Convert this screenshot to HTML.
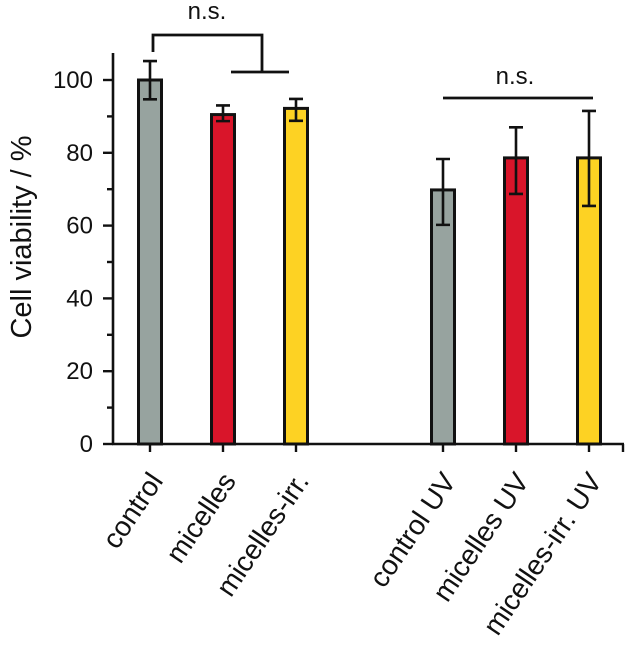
<!DOCTYPE html>
<html><head><meta charset="utf-8"><style>
html,body{margin:0;padding:0;background:#fff}
svg{display:block;font-family:"Liberation Sans",Arial,sans-serif}
</style></head><body>
<svg id="chart" width="630" height="652" viewBox="0 0 630 652">
<text x="0" y="0" transform="translate(31,237) rotate(-90)" text-anchor="middle" font-size="29" fill="#111">Cell viability / %</text>
<g id="axes"></g><g id="bars"></g><g id="annot"></g>
</svg>
<script>
const categories = ["control","micelles","micelles-irr.","control UV","micelles UV","micelles-irr. UV"];
const values = [100, 90.5, 92.2, 69.8, 78.6, 78.6];
const errUp = [5.2, 2.5, 2.6, 8.5, 8.4, 12.9];
const errDown = [5.3, 1.8, 3.4, 9.6, 9.9, 13.2];
const colors = ["#97a39f","#d9152a","#fdd223","#97a39f","#d9152a","#fdd223"];
const yTicks = [0,20,40,60,80,100];
const yMinor = [10,30,50,70,90];
const xCenters = [150, 223, 296, 443, 516, 589];

const NS="http://www.w3.org/2000/svg";
function y(v){return 444 - v*3.64;}
function mk(tag,attrs,parent){const e=document.createElementNS(NS,tag);for(const k in attrs)e.setAttribute(k,attrs[k]);parent.appendChild(e);return e;}
const axes=document.getElementById('axes'), bars=document.getElementById('bars'), annot=document.getElementById('annot');

let l=mk('line',{x1:113,y1:53,x2:113,y2:445,stroke:'#111','stroke-width':2.6},axes);


l=mk('line',{x1:112,y1:444,x2:624,y2:444,stroke:'#111','stroke-width':2.6},axes);


l=mk('line',{x1:623,y1:444,x2:623,y2:452,stroke:'#111','stroke-width':2.4},axes);


yTicks.forEach(v=>{
  const t=mk('line',{x1:103,y1:y(v),x2:113,y2:y(v),stroke:'#111','stroke-width':2.4},axes);
  
  
  const tx=mk('text',{x:93,y:y(v)+8,'text-anchor':'end','font-size':24,fill:'#111'},axes);
  tx.textContent=v;
  
  
});
yMinor.forEach(v=>{
  const t=mk('line',{x1:107,y1:y(v),x2:113,y2:y(v),stroke:'#111','stroke-width':2.4},axes);
  
  
});
categories.forEach((c,i)=>{
  const cx=xCenters[i];
  const r=mk('rect',{x:cx-11.5,y:y(values[i]),width:23,height:444-y(values[i]),fill:colors[i],stroke:'#111','stroke-width':3},bars);
  
  
  const top=y(values[i]+errUp[i]), bot=y(values[i]-errDown[i]);
  const e=mk('path',{d:`M${cx},${top}V${bot}M${cx-7},${top}H${cx+7}M${cx-7},${bot}H${cx+7}`,stroke:'#111','stroke-width':2.6,fill:'none'},bars);
  
  
  const t=mk('line',{x1:cx,y1:444,x2:cx,y2:452,stroke:'#111','stroke-width':2.4},axes);
  
  
  const tx=mk('text',{x:0,y:0,'text-anchor':'end','font-size':28,fill:'#111',transform:`translate(${cx+14},${481}) rotate(-56)`},axes);
  tx.textContent=c;
  
  
});
let p=mk('path',{d:'M153,52V35H262V72M231,72H289',stroke:'#111','stroke-width':2.8,fill:'none'},annot);


let t=mk('text',{x:207,y:19,'text-anchor':'middle','font-size':24,fill:'#111'},annot);
t.textContent='n.s.';


p=mk('line',{x1:443,y1:98,x2:593,y2:98,stroke:'#111','stroke-width':2.8},annot);


t=mk('text',{x:515,y:84,'text-anchor':'middle','font-size':24,fill:'#111'},annot);
t.textContent='n.s.';


</script>
</body></html>
